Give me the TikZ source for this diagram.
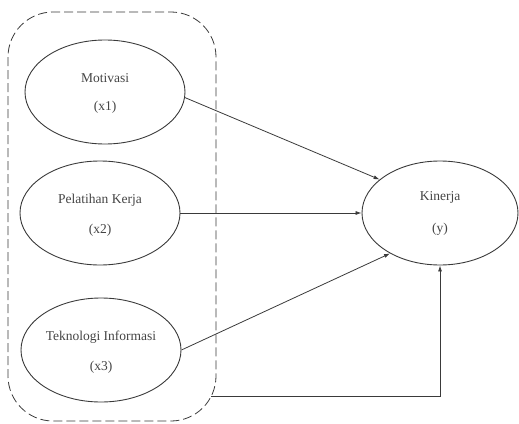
\documentclass[tikz,border=0pt]{standalone}
\usepackage{fontspec}
\setmainfont{Liberation Serif}
\usetikzlibrary{shapes.geometric,arrows.meta}
\definecolor{ln}{HTML}{3A3A3A}
\definecolor{tx}{HTML}{444444}
\tikzset{
  var/.style={ellipse,draw=ln,line width=0.9pt,minimum width=160pt,minimum height=104pt,inner sep=0pt},
  lbl/.style={text=tx,font=\fontsize{13.5}{15}\selectfont,align=center},
  conn/.style={draw=ln,line width=0.8pt,-{Latex[length=6pt,width=4pt]}},
  grp/.style={draw=ln,line width=0.8pt,dash pattern=on 9pt off 4pt,rounded corners=45pt}
}
\begin{document}
\begin{tikzpicture}[x=1pt,y=-1pt]
\useasboundingbox (0,0) rectangle (519,423);
\draw[grp] (8,12) rectangle (216,421);
\node[var] (m) at (105,92) {};
\node[var] (p) at (100,213) {};
\node[var] (t) at (101,350) {};
\node[var,minimum width=156pt] (k) at (440,213) {};
\node[lbl] at (105,78) {Motivasi};
\node[lbl] at (105,107) {(x1)};
\node[lbl] at (100,200) {Pelatihan Kerja};
\node[lbl] at (100,230) {(x2)};
\node[lbl] at (101,337) {Teknologi Informasi};
\node[lbl] at (101,367) {(x3)};
\node[lbl] at (440,197) {Kinerja};
\node[lbl] at (440,229) {(y)};
\coordinate (b) at (211,396);
\draw[conn] (m.-4) -- (k.151);
\draw[conn] (p.east) -- (k.west);
\draw[conn] (t.east) -- (k.219);
\draw[conn] (b) -| (k.south);
\end{tikzpicture}
\end{document}
